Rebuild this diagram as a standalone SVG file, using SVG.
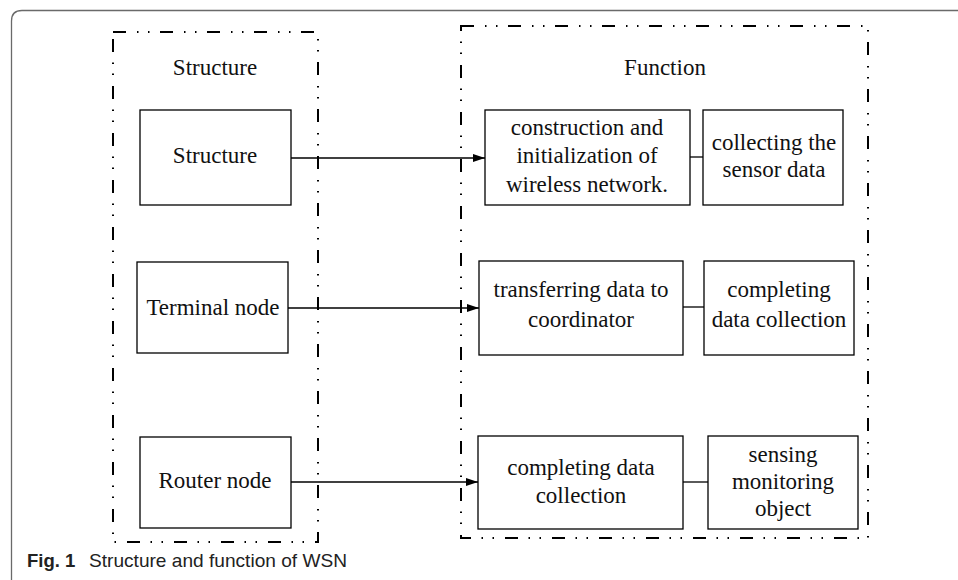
<svg xmlns="http://www.w3.org/2000/svg" width="958" height="580" viewBox="0 0 958 580">
  <style>
    .frame { fill: none; stroke: #6a6a6a; stroke-width: 1.3; }
    .group { fill: none; stroke: #000; stroke-width: 2; stroke-dasharray: 13 11 1.5 9.5 1.5 10.5; }
    .box { fill: #fff; stroke: #000; stroke-width: 1.3; }
    .lbl { font-family: "Liberation Serif", "Times New Roman", serif; font-size: 23px; fill: #111; text-anchor: middle; }
    .wire { fill: none; stroke: #000; stroke-width: 1.3; }
    .cap { font-family: "Liberation Sans", Arial, sans-serif; font-size: 18.5px; fill: #222; }
  </style>
  <defs>
    <marker id="arrow" markerWidth="12" markerHeight="10" refX="12" refY="5" orient="auto" markerUnits="userSpaceOnUse">
      <path d="M0,1 L12,5 L0,9 Z" fill="#000"/>
    </marker>
  </defs>

  <rect width="958" height="580" fill="#fff"/>
  <!-- figure frame -->
  <path class="frame" d="M11.5 580 V21 Q11.5 10.5 22 10.5 H958"/>

  <!-- dash-dot-dot groupings -->
  <g id="structure-group">
    <rect class="group" x="113" y="32" width="205" height="510"/>
    <text class="lbl" x="215" y="75">Structure</text>
  </g>
  <g id="function-group">
    <rect class="group" x="461" y="26" width="407" height="512"/>
    <text class="lbl" x="665" y="75">Function</text>
  </g>

  <!-- connectors -->
  <g id="connectors">
    <line class="wire" x1="290" y1="158" x2="485" y2="158" marker-end="url(#arrow)"/>
    <line class="wire" x1="690" y1="157" x2="703" y2="157"/>
    <line class="wire" x1="288" y1="308" x2="479" y2="308" marker-end="url(#arrow)"/>
    <line class="wire" x1="683" y1="307" x2="704" y2="307"/>
    <line class="wire" x1="291" y1="482" x2="478" y2="482" marker-end="url(#arrow)"/>
    <line class="wire" x1="683" y1="482" x2="708" y2="482"/>
  </g>

  <!-- structure nodes -->
  <g id="node-structure">
    <rect class="box" x="140" y="110" width="151" height="95"/>
    <text class="lbl" x="215" y="163">Structure</text>
  </g>
  <g id="node-terminal">
    <rect class="box" x="137" y="262" width="151" height="91"/>
    <text class="lbl" x="213" y="315">Terminal node</text>
  </g>
  <g id="node-router">
    <rect class="box" x="140" y="437" width="151" height="91"/>
    <text class="lbl" x="215" y="488">Router node</text>
  </g>

  <!-- function nodes -->
  <g id="node-construction">
    <rect class="box" x="485" y="110" width="205" height="95"/>
    <text class="lbl" x="587" y="135">construction and</text>
    <text class="lbl" x="587" y="163">initialization of</text>
    <text class="lbl" x="587" y="192">wireless network.</text>
  </g>
  <g id="node-collecting">
    <rect class="box" x="703" y="110" width="140" height="95"/>
    <text class="lbl" x="774" y="150">collecting the</text>
    <text class="lbl" x="774" y="177">sensor data</text>
  </g>
  <g id="node-transferring">
    <rect class="box" x="479" y="261" width="204" height="94"/>
    <text class="lbl" x="581" y="297">transferring data to</text>
    <text class="lbl" x="581" y="327">coordinator</text>
  </g>
  <g id="node-completing-1">
    <rect class="box" x="704" y="261" width="150" height="94"/>
    <text class="lbl" x="779" y="297">completing</text>
    <text class="lbl" x="779" y="327">data collection</text>
  </g>
  <g id="node-completing-2">
    <rect class="box" x="478" y="436" width="205" height="93"/>
    <text class="lbl" x="581" y="475">completing data</text>
    <text class="lbl" x="581" y="503">collection</text>
  </g>
  <g id="node-sensing">
    <rect class="box" x="708" y="436" width="150" height="93"/>
    <text class="lbl" x="783" y="462">sensing</text>
    <text class="lbl" x="783" y="489">monitoring</text>
    <text class="lbl" x="783" y="516">object</text>
  </g>

  <!-- caption -->
  <text class="cap" x="27" y="567" font-weight="bold">Fig. 1</text>
  <text class="cap" x="89" y="567" textLength="258" lengthAdjust="spacingAndGlyphs">Structure and function of WSN</text>
</svg>
